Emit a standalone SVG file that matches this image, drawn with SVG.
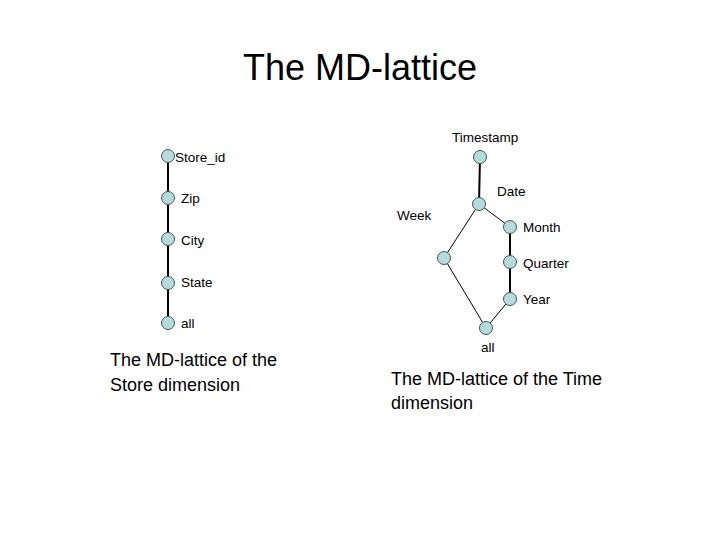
<svg xmlns="http://www.w3.org/2000/svg" width="720" height="540" viewBox="0 0 720 540">
<style>
text{font-family:"Liberation Sans",Arial,sans-serif;fill:#000}
.lbl{font-size:13.5px}
.cap{font-size:18px}
.node circle{fill:#B7DADB;stroke:#3C5A5C;stroke-width:1}
.edge{stroke:#000;fill:none}
</style>
<rect width="720" height="540" fill="#fff"/>
<text x="360" y="80" font-size="36" text-anchor="middle">The MD-lattice</text>
<g id="connectors">
<line class="edge" stroke-width="2" x1="168" y1="156" x2="168" y2="323"/>
<line class="edge" stroke-width="2" x1="480" y1="157" x2="479" y2="204"/>
<line class="edge" stroke-width="1" x1="479" y1="204" x2="510" y2="227"/>
<line class="edge" stroke-width="2" x1="510" y1="227" x2="510" y2="299"/>
<line class="edge" stroke-width="1" x1="510" y1="299" x2="486" y2="328"/>
<line class="edge" stroke-width="1" x1="479" y1="204" x2="444" y2="258"/>
<line class="edge" stroke-width="1" x1="444" y1="258" x2="486" y2="328"/>
</g>
<g id="n-store_id" class="node"><circle cx="168" cy="156" r="6.5"/><text class="lbl" x="175" y="162">Store_id</text></g>
<g id="n-zip" class="node"><circle cx="168" cy="198" r="6.5"/><text class="lbl" x="181" y="203">Zip</text></g>
<g id="n-city" class="node"><circle cx="168" cy="239" r="6.5"/><text class="lbl" x="181" y="245">City</text></g>
<g id="n-state" class="node"><circle cx="168" cy="283" r="6.5"/><text class="lbl" x="181" y="287">State</text></g>
<g id="n-store_all" class="node"><circle cx="168" cy="323" r="6.5"/><text class="lbl" x="181" y="328">all</text></g>
<g id="n-timestamp" class="node"><circle cx="480" cy="157" r="6.5"/><text class="lbl" x="452" y="142">Timestamp</text></g>
<g id="n-date" class="node"><circle cx="479" cy="204" r="6.5"/><text class="lbl" x="497" y="196">Date</text></g>
<g id="n-week" class="node"><circle cx="444" cy="258" r="6.5"/><text class="lbl" x="397" y="220">Week</text></g>
<g id="n-month" class="node"><circle cx="510" cy="227" r="6.5"/><text class="lbl" x="523" y="232">Month</text></g>
<g id="n-quarter" class="node"><circle cx="510" cy="262" r="6.5"/><text class="lbl" x="523" y="268">Quarter</text></g>
<g id="n-year" class="node"><circle cx="510" cy="299" r="6.5"/><text class="lbl" x="523" y="304">Year</text></g>
<g id="n-time_all" class="node"><circle cx="486" cy="328" r="6.5"/><text class="lbl" x="481" y="352">all</text></g>
<text class="cap" x="110" y="366">The MD-lattice of the</text>
<text class="cap" x="110" y="391">Store dimension</text>
<text class="cap" x="391" y="385">The MD-lattice of the Time</text>
<text class="cap" x="391" y="409">dimension</text>
</svg>
